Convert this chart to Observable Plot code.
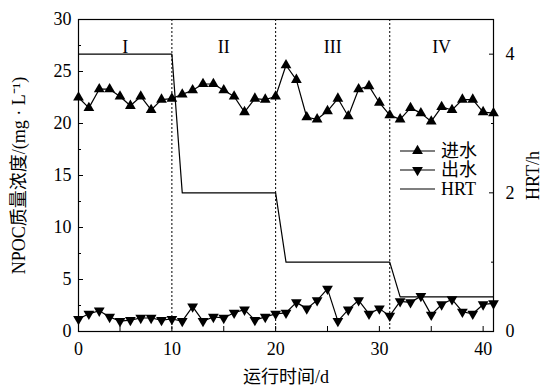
<!DOCTYPE html>
<html><head><meta charset="utf-8">
<script src="https://cdn.jsdelivr.net/npm/d3@7"></script>
<script src="https://cdn.jsdelivr.net/npm/@observablehq/plot@0.6"></script>
<style>
body{margin:0;background:#fff;}
#wrap{position:relative;width:545px;height:387px;}
#wrap svg{position:absolute;left:0;top:0;}
</style></head><body><div id="wrap"></div>
<script>
const FONT = '"Liberation Serif","Times New Roman","Noto Sans CJK SC",serif';
const days = [1,2,3,4,5,6,7,8,9,10,11,12,13,14,15,16,17,18,19,20,21,22,23,24,25,26,27,28,29,30,31,32,33,34,35,36,37,38,39,40,41];
const influent = [22.5,21.5,23.3,23.3,22.6,21.7,22.6,21.3,22.3,22.4,
                  22.8,23.2,23.8,23.8,23.2,22.6,21.1,22.4,22.3,22.6,
                  25.6,24.2,20.6,20.4,21.2,22.4,20.7,23.3,23.6,22.0,
                  20.8,20.4,21.5,21.0,20.2,21.6,21.3,22.3,22.3,21.1,21.0];
const effluent = [1.2,1.7,2.0,1.4,1.0,1.1,1.3,1.3,1.1,1.2,
                  1.0,2.4,1.0,1.4,1.3,1.8,2.1,1.1,1.4,1.7,
                  1.8,2.8,2.2,3.0,4.1,1.0,2.1,3.0,1.7,2.2,
                  1.5,2.9,2.8,3.4,1.6,2.6,3.1,1.9,1.7,2.6,2.7];
const hrt = [4,4,4,4,4,4,4,4,4,4,
             2,2,2,2,2,2,2,2,2,2,
             1,1,1,1,1,1,1,1,1,1,1,
             0.5,0.5,0.5,0.5,0.5,0.5,0.5,0.5,0.5,0.5];
const phaseBounds = [10,20,31];
const phaseNames = ["I","II","III","IV"];
const phaseStart = [1,10,20,31];
const phaseEnd = [10,20,31,41];
const leftTicks = [0,5,10,15,20,25,30];
const leftMinor = [2.5,7.5,12.5,17.5,22.5,27.5];
const rightTicks = [0,2,4];
const rightMinor = [1,3];
const xLabelTicks = [1,10,20,30,40];
const xTicks = [5,10,15,20,25,30,35,40];
const legendNames = ["进水","出水","HRT"];

const yMax = 30, hMax = 4.5, k = yMax / hMax;
const rows = days.map((d,i)=>({day:d, inf:influent[i], eff:effluent[i], hrt:hrt[i]}));
const phases = phaseNames.map((n,i)=>({name:n, x:(phaseStart[i]+phaseEnd[i])/2}));

const triDown = {draw(ctx, size){const s3=Math.sqrt(3); const y=-Math.sqrt(size/(s3*3)); ctx.moveTo(0,-y*2); ctx.lineTo(-s3*y,y); ctx.lineTo(s3*y,y); ctx.closePath();}};

const chart = Plot.plot({
  width:545, height:387,
  marginLeft:78, marginRight:52, marginTop:19, marginBottom:56,
  style:{fontFamily:FONT, fontSize:"18px", color:"black", background:"white"},
  x:{domain:[1,41]},
  y:{domain:[0,yMax]},
  marks:[
    Plot.ruleX(phaseBounds,{stroke:"black", strokeWidth:1, strokeDasharray:"2,2"}),
    Plot.line(rows,{x:"day", y:d=>d.hrt*k, stroke:"black", strokeWidth:1.2}),
    Plot.line(rows,{x:"day", y:"inf", stroke:"black", strokeWidth:1.2}),
    Plot.dot(rows,{x:"day", y:"inf", symbol:"triangle", fill:"black", r:4}),
    Plot.line(rows,{x:"day", y:"eff", stroke:"black", strokeWidth:1.2}),
    Plot.dot(rows,{x:"day", y:"eff", symbol:triDown, fill:"black", r:4}),
    Plot.text(phases,{x:"x", text:"name", frameAnchor:"top", dy:21, fontSize:18, fill:"black"}),
    Plot.axisY({ticks:leftTicks, tickSize:0, tickPadding:7, label:"NPOC质量浓度/(mg · L⁻¹)", labelAnchor:"center", labelArrow:"none", labelOffset:66}),
    Plot.axisY({ticks:leftTicks, tickSize:-5, tickFormat:()=>"", label:null}),
    Plot.axisY({ticks:leftMinor, tickSize:-3, tickFormat:()=>"", label:null}),
    Plot.axisY({anchor:"right", ticks:rightTicks.map(v=>v*k), tickFormat:d=>String(Math.round(d/k)), tickSize:0, tickPadding:12, label:"HRT/h", labelAnchor:"center", labelArrow:"none", labelOffset:45}),
    Plot.axisY({anchor:"right", ticks:rightTicks.map(v=>v*k), tickSize:-5, tickFormat:()=>"", label:null}),
    Plot.axisY({anchor:"right", ticks:rightMinor.map(v=>v*k), tickSize:-3, tickFormat:()=>"", label:null}),
    Plot.axisX({ticks:xLabelTicks, tickFormat:d=>d===1?"0":String(d), tickSize:0, tickPadding:11, label:"运行时间/d", labelAnchor:"center", labelArrow:"none", labelOffset:51}),
    Plot.axisX({ticks:xTicks, tickSize:-5, tickFormat:()=>"", label:null}),
    Plot.frame({stroke:"black", strokeWidth:1.2})
  ]
});
const wrap = document.getElementById("wrap");
wrap.appendChild(chart);

// legend overlay
const lg = d3.select(wrap).append("svg").attr("width",545).attr("height",387).style("pointer-events","none");
const ly0 = 151, ldy = 19, lx1 = 400, lx2 = 435;
const up = d3.symbol(d3.symbolTriangle, Math.PI*4*4)();
const down = d3.symbol(triDown, Math.PI*4*4)();
legendNames.forEach((n,i)=>{
  const y = ly0 + i*ldy;
  const g = lg.append("g");
  g.append("line").attr("x1",lx1).attr("x2",lx2).attr("y1",y).attr("y2",y).attr("stroke","black").attr("stroke-width",1.2);
  if(i<2) g.append("path").attr("d", i===0?up:down).attr("transform",`translate(${(lx1+lx2)/2},${y})`).attr("fill","black");
  g.append("text").attr("x",lx2+6).attr("y",y).attr("dy","0.35em").attr("font-family",FONT).attr("font-size",18).text(n);
});
</script></body></html>
